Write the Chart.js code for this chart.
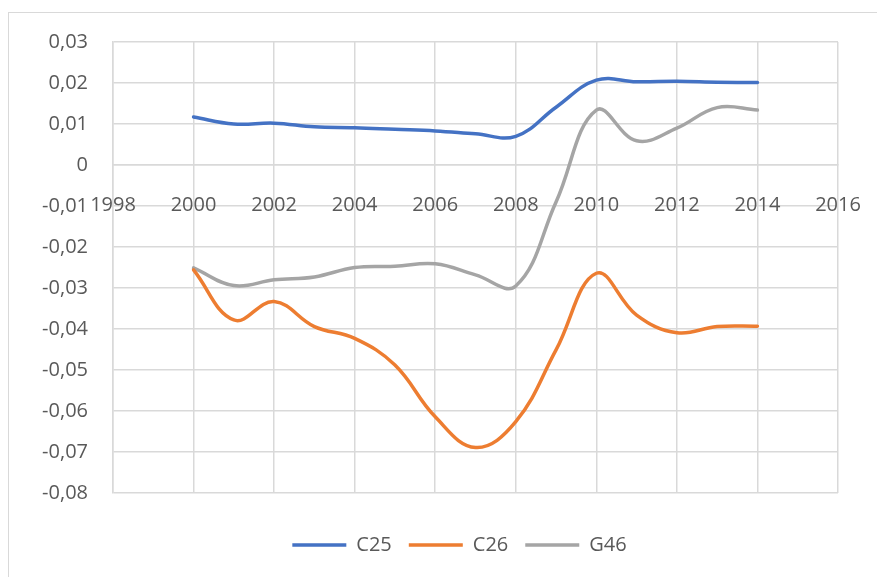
<!DOCTYPE html>
<html>
<head>
<meta charset="utf-8">
<script src="https://cdn.jsdelivr.net/npm/chart.js@4.4.1/dist/chart.umd.min.js"></script>
<style>
  body { margin: 0; background: #fff; overflow: hidden; }
  #frame { position: absolute; left: 8px; top: 12px; width: 920px; height: 620px; border: 1.5px solid #d9d9d9; }
  #wrap { position: absolute; left: 0; top: 0; width: 877px; height: 577px; }
</style>
</head>
<body>
<div id="frame"></div>
<div id="wrap"><canvas id="lineChart"></canvas></div>
<script>
const years = [2000, 2001, 2002, 2003, 2004, 2005, 2006, 2007, 2008, 2009, 2010, 2011, 2012, 2013, 2014]
const c25 = [0.0117, 0.0100, 0.0102, 0.0093, 0.0091, 0.0087, 0.0083, 0.0076, 0.0070, 0.0141, 0.0207, 0.0203, 0.0204, 0.0202, 0.0201]
const c26 = [-0.0256, -0.0378, -0.0333, -0.0394, -0.0423, -0.0488, -0.0614, -0.0689, -0.0626, -0.0451, -0.0264, -0.0366, -0.0409, -0.0394, -0.0393]
const g46 = [-0.0251, -0.0294, -0.0280, -0.0273, -0.0250, -0.0247, -0.0241, -0.0268, -0.0295, -0.0090, 0.0134, 0.0059, 0.0090, 0.0140, 0.0134]
const seriesNames = ['C25', 'C26', 'G46']
const seriesColors = ['#4472C4', '#ED7D31', '#A5A5A5']
const yTicks = [-0.08, -0.07, -0.06, -0.05, -0.04, -0.03, -0.02, -0.01, 0, 0.01, 0.02, 0.03]

const textColor = '#595959'
const gridColor = '#d9d9d9'
const font = { family: "'Open Sans', sans-serif", size: 20 }

function points(values) {
  return values.map((v, i) => ({ x: years[i], y: v }))
}

function formatY(value) {
  const v = Math.round(value * 100) / 100
  if (v === 0) return '0'
  return v.toFixed(2).replace('.', ',')
}

// widest y label, so the mirrored labels can be pushed back left of the axis
function widestYLabel() {
  const c = document.createElement('canvas').getContext('2d')
  c.font = "20px 'Open Sans', sans-serif"
  return Math.max(...yTicks.map(t => c.measureText(formatY(t)).width))
}

function makeDataset(name, values, color) {
  return {
    label: name,
    data: points(values),
    borderColor: color,
    backgroundColor: color,
    borderWidth: 3.5,
    borderCapStyle: 'round',
    pointRadius: 0,
    showLine: true,
    tension: 0.4
  }
}

document.addEventListener('DOMContentLoaded', () => {
  const ctx = document.getElementById('lineChart').getContext('2d')
  const yLabelWidth = widestYLabel()

  new Chart(ctx, {
    type: 'scatter',
    data: {
      datasets: [
        makeDataset(seriesNames[0], c25, seriesColors[0]),
        makeDataset(seriesNames[1], c26, seriesColors[1]),
        makeDataset(seriesNames[2], g46, seriesColors[2])
      ]
    },
    options: {
      responsive: true,
      maintainAspectRatio: false,
      animation: false,
      layout: {
        padding: { left: 81, right: 39, top: 42, bottom: 12 }
      },
      plugins: {
        tooltip: { enabled: false },
        legend: {
          position: 'bottom',
          // empty title only reserves room above the items
          title: { display: true, text: '', padding: 0, font: { size: 25, lineHeight: 1 } },
          labels: {
            boxWidth: 54,
            boxHeight: 0,
            padding: 17,
            color: textColor,
            font: font
          }
        }
      },
      scales: {
        x: {
          type: 'linear',
          position: { y: 0 },
          min: 1998,
          max: 2016,
          // end labels may overhang the plot, don't let them shrink it
          afterFit: (scale) => { scale.paddingLeft = 0; scale.paddingRight = 0 },
          grid: { color: gridColor, lineWidth: 1.5, drawTicks: false },
          border: { color: gridColor, width: 1.5 },
          ticks: {
            stepSize: 2,
            padding: 28,
            color: textColor,
            font: font,
            maxRotation: 0,
            callback: (value) => String(value)
          }
        },
        y: {
          min: -0.08,
          max: 0.03,
          afterFit: (scale) => { scale.width = 32 },
          grid: { color: gridColor, lineWidth: 1.5, drawTicks: false },
          border: { color: gridColor, width: 1.5 },
          ticks: {
            stepSize: 0.01,
            mirror: true,
            crossAlign: 'far',
            padding: -25 - yLabelWidth,
            color: textColor,
            font: font,
            callback: formatY
          }
        }
      }
    }
  })
})
</script>
</body>
</html>
